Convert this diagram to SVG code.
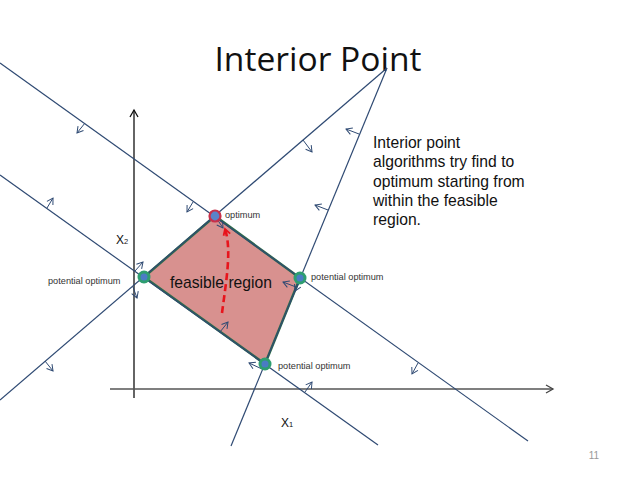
<svg xmlns="http://www.w3.org/2000/svg" width="638" height="479" viewBox="0 0 638 479">
<style>
.ln{stroke:#2f4a73;stroke-width:1.2;fill:none}
.na{stroke:#2f4a73;stroke-width:1;fill:none;marker-end:url(#ah)}
.lbl{font-family:"Liberation Sans",Arial,sans-serif;font-size:9.2px;fill:#333}
.txt{font-family:"Liberation Sans",Arial,sans-serif;font-size:15.7px;fill:#111}
.vo{fill:#2e9e70}
.vi{fill:#4a7cc4}
</style>
<defs>
<marker id="ah" markerWidth="10" markerHeight="10" refX="8" refY="5" orient="auto" markerUnits="userSpaceOnUse">
<path d="M2,1.5 L8,5 L2,8.5" fill="none" stroke="#2f4a73" stroke-width="1"/>
</marker>
<marker id="axk" markerWidth="12" markerHeight="12" refX="10" refY="6" orient="auto" markerUnits="userSpaceOnUse">
<path d="M3,2 L10,6 L3,10" fill="none" stroke="#111" stroke-width="1.3"/>
</marker>
<marker id="axg" markerWidth="12" markerHeight="12" refX="10" refY="6" orient="auto" markerUnits="userSpaceOnUse">
<path d="M3,2 L10,6 L3,10" fill="none" stroke="#444" stroke-width="1.3"/>
</marker>
<marker id="rh" markerWidth="10" markerHeight="10" refX="7" refY="5" orient="auto" markerUnits="userSpaceOnUse">
<path d="M1,1.5 L7,5 L1,8.5" fill="none" stroke="#e8141c" stroke-width="1.8"/>
</marker>
</defs>
<rect width="638" height="479" fill="#fff"/>
<text x="318" y="71" text-anchor="middle" font-family="'Open Sans','Liberation Sans',sans-serif" font-size="33" fill="#111" textLength="207" lengthAdjust="spacingAndGlyphs">Interior Point</text>

<g id="axes">
<line x1="134" y1="398" x2="134" y2="110" stroke="#111" stroke-width="1.3" marker-end="url(#axk)"/>
<line x1="110" y1="389" x2="553" y2="389" stroke="#555" stroke-width="1.5" marker-end="url(#axg)"/>
</g>

<g id="region">
<polygon points="215,216 300,278 265,364 144,277" fill="#d8918f" stroke="#2f6b4b" stroke-width="2.5" stroke-linejoin="round"/>
<text x="221" y="288" text-anchor="middle" class="txt">feasible region</text>
</g>

<g id="connectors">
<line class="ln" x1="0" y1="63" x2="528" y2="441"/>
<line class="ln" x1="387" y1="68" x2="0" y2="400"/>
<line class="ln" x1="387" y1="68" x2="231" y2="446"/>
<line class="ln" x1="0" y1="175" x2="378" y2="445"/>
<line class="na" x1="85" y1="123" x2="77" y2="133"/>
<line class="na" x1="193" y1="202" x2="187" y2="212"/>
<line class="na" x1="418" y1="363" x2="412" y2="374"/>
<line class="na" x1="300" y1="281" x2="295" y2="291"/>
<line class="na" x1="303" y1="140" x2="312" y2="152"/>
<line class="na" x1="217" y1="219" x2="223" y2="228"/>
<line class="na" x1="133" y1="287" x2="137" y2="298"/>
<line class="na" x1="45" y1="361" x2="53" y2="371"/>
<line class="na" x1="359" y1="134" x2="346" y2="129"/>
<line class="na" x1="328" y1="210" x2="315" y2="205"/>
<line class="na" x1="296" y1="287" x2="283" y2="282"/>
<line class="na" x1="262" y1="369" x2="249" y2="363"/>
<line class="na" x1="47" y1="208" x2="53" y2="198"/>
<line class="na" x1="135" y1="271" x2="143" y2="262"/>
<line class="na" x1="220" y1="332" x2="228" y2="322"/>
<line class="na" x1="305" y1="392" x2="312" y2="382"/>
<path d="M222,313 C226,282 232,250 225,229" fill="none" stroke="#e8141c" stroke-width="2.6" stroke-dasharray="7,4" marker-end="url(#rh)"/>
</g>

<g id="optimum">
<circle cx="215" cy="216" r="5.5" fill="#5b83c9" stroke="#c8304a" stroke-width="2.2"/>
<text x="225" y="218" class="lbl">optimum</text>
</g>
<g id="left-vertex">
<circle cx="144" cy="277" r="6.5" class="vo"/>
<circle cx="144" cy="277" r="3.5" class="vi"/>
<text x="48" y="284" class="lbl">potential optimum</text>
</g>
<g id="right-vertex">
<circle cx="300" cy="278" r="6.5" class="vo"/>
<circle cx="300" cy="278" r="3.5" class="vi"/>
<text x="311" y="280" class="lbl">potential optimum</text>
</g>
<g id="bottom-vertex">
<circle cx="265" cy="364" r="6.5" class="vo"/>
<circle cx="265" cy="364" r="3.5" class="vi"/>
<text x="278" y="369" class="lbl">potential optimum</text>
</g>

<g id="axis-labels" font-family="'Liberation Sans',Arial,sans-serif" fill="#111">
<text x="116" y="244" font-size="12">X<tspan font-size="7.5" dy="0">2</tspan></text>
<text x="281" y="427" font-size="12">X<tspan font-size="7.5" dy="0">1</tspan></text>
</g>

<g id="note">
<text class="txt" x="373" y="148">Interior point</text>
<text class="txt" x="373" y="167.3">algorithms try find to</text>
<text class="txt" x="373" y="186.6">optimum starting from</text>
<text class="txt" x="373" y="205.9">within the feasible</text>
<text class="txt" x="373" y="225.2">region.</text>
</g>

<text x="594" y="459" text-anchor="middle" font-family="'Liberation Sans',Arial,sans-serif" font-size="10" fill="#999">11</text>
</svg>
